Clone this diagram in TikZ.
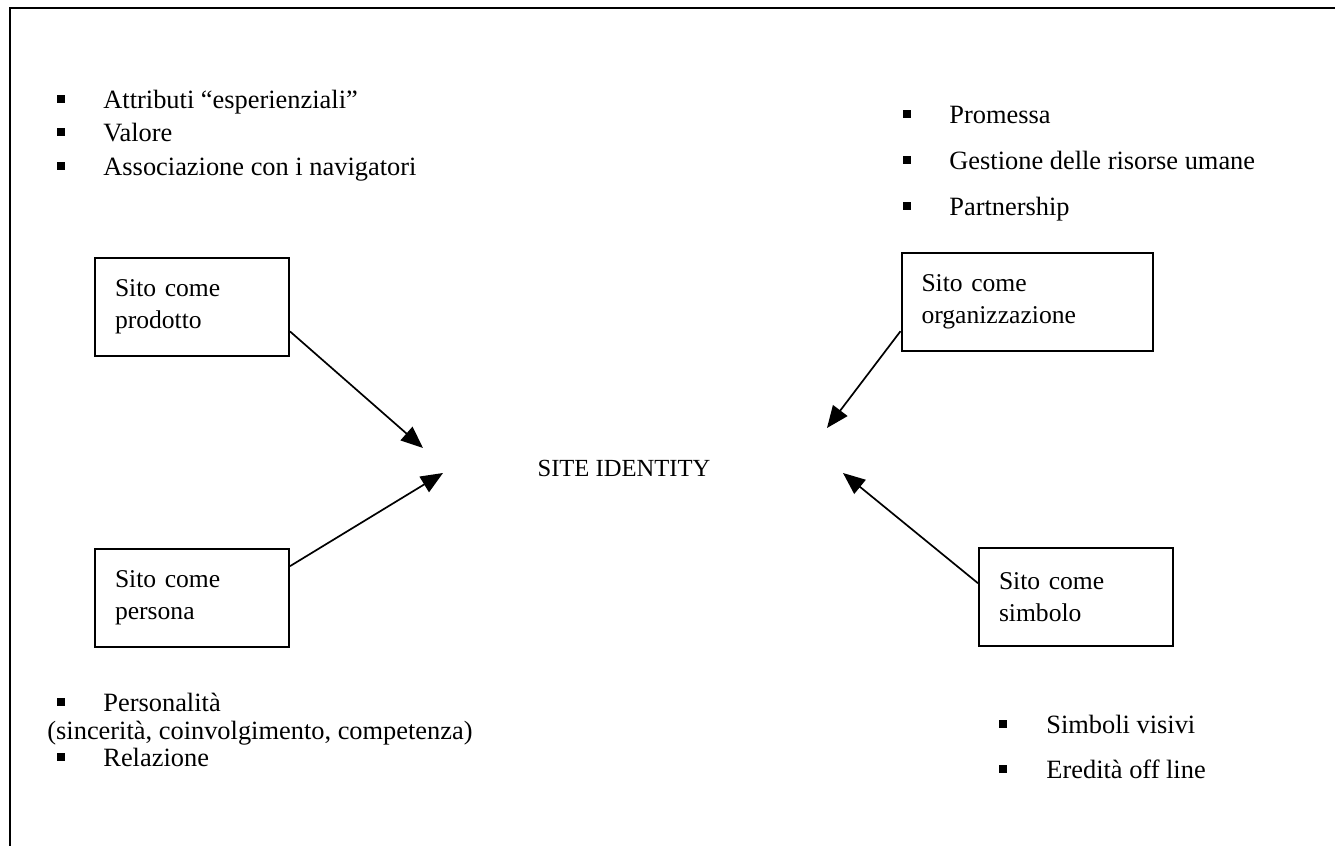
\documentclass[tikz,border=0pt]{standalone}
\usepackage{fontspec}
\setmainfont{Liberation Serif}
\usetikzlibrary{arrows.meta}

\tikzset{
	sitobox/.style={draw, line width=1pt, align=left, inner xsep=10pt, text width=77pt, minimum height=49pt, font=\fontsize{12.8}{16}\selectfont},
	sqbullet/.style={fill, inner sep=0pt, minimum size=4pt},
	voce/.style={anchor=base west, inner sep=0pt, font=\fontsize{13.2}{16}\selectfont},
	versoid/.style={-{Triangle[length=11pt,width=9pt]}, line width=0.85pt}
}

\begin{document}
\begin{tikzpicture}[x=0.5pt, y=-0.5pt, font=\fontsize{12.3}{15}\selectfont]
		\useasboundingbox (0,0) rectangle (1335,846);
		\draw[line width=1pt] (10,846) -- (10,8) -- (1335,8);
		% scatole
		\node[sitobox] (prodotto) at (192,307) {Sito come\\prodotto};
		\node[sitobox] (persona) at (192,598) {Sito come\\persona};
		\node[sitobox, text width=105.5pt] (organiz) at (1027,302) {Sito come\\organizzazione};
		\node[sitobox] (simbolo) at (1076,597) {Sito come\\simbolo};
		\node (siteid) at (624,468) {SITE IDENTITY};
		\coordinate (pA) at (423,448);
		\coordinate (pB) at (443,473);
		\coordinate (pC) at (827,428);
		\coordinate (pD) at (843,473);
		\draw[versoid] (prodotto.-14) -- (pA);
		\draw[versoid] (persona.18) -- (pB);
		\draw[versoid] (organiz.193) -- (pC);
		\draw[versoid] (simbolo.172) -- (pD);
		% elenchi
		\node[sqbullet] (b1) at (61,99) {};
		\node[voce] (attr) at (103,108) {Attributi ``esperienziali''};
		\node[sqbullet] (b2) at (61,132) {};
		\node[voce] (valore) at (103,141) {Valore};
		\node[sqbullet] (b3) at (61,166) {};
		\node[voce] (assoc) at (103,175) {Associazione con i navigatori};
		\node[sqbullet] (b4) at (907,114) {};
		\node[voce] (promessa) at (949,123) {Promessa};
		\node[sqbullet] (b5) at (907,160) {};
		\node[voce] (gestione) at (949,169) {Gestione delle risorse umane};
		\node[sqbullet] (b6) at (907,206) {};
		\node[voce] (partner) at (949,215) {Partnership};
		\node[sqbullet] (b7) at (61,702) {};
		\node[voce] (personal) at (103,711) {Personalità};
		\node[voce] (sincer) at (47,739) {(sincerità, coinvolgimento, competenza)};
		\node[sqbullet] (b8) at (61,757) {};
		\node[voce] (relaz) at (103,766) {Relazione};
		\node[sqbullet] (b9) at (1003,724) {};
		\node[voce] (simbvis) at (1046,733) {Simboli visivi};
		\node[sqbullet] (b10) at (1003,769) {};
		\node[voce] (eredita) at (1046,778) {Eredità off line};
	\end{tikzpicture}
\end{document}
